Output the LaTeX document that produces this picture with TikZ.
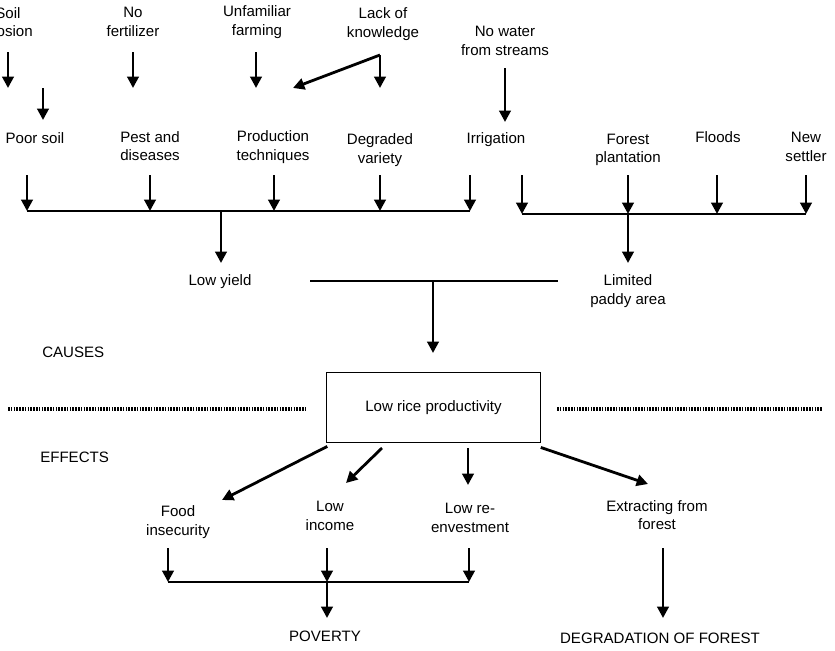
\documentclass[tikz,border=0pt]{standalone}
\usepackage{fontspec}
\setmainfont{Liberation Sans}
\usetikzlibrary{arrows.meta}
\begin{document}
\begin{tikzpicture}[x=0.75pt,y=-0.75pt,
  lbl/.style={align=center,font=\fontsize{11.3}{14}\selectfont,inner sep=0pt},
  arr/.style={line width=2.1pt,-{Triangle[length=8.5pt,width=8.5pt]}},
  barline/.style={line width=1.4pt},
  dotline/.style={line width=2.6pt,dash pattern=on 1.2pt off 0.9pt}]
\useasboundingbox (0,0) rectangle (835,650);
% top row
\node[lbl] (se) at (8,22) {Soil\\erosion};
\node[lbl] (nf) at (133,22) {No\\fertilizer};
\node[lbl] (uf) at (257,22) {Unfamiliar\\farming};
\node[lbl] (lk) at (383,24) {Lack of\\knowledge};
\node[lbl] (nw) at (505,41) {No water\\from streams};
% middle row
\node[lbl] (ps) at (35,138) {Poor soil};
\node[lbl] (pd) at (150,146) {Pest and\\diseases};
\node[lbl] (pt) at (273,147) {Production\\techniques};
\node[lbl] (dv) at (380,150) {Degraded\\variety};
\node[lbl] (ir) at (496,140) {Irrigation};
\node[lbl] (fp) at (628,150) {Forest\\plantation};
\node[lbl] (fl) at (718,137) {Floods};
\node[lbl] (ns) at (806,147) {New\\settler};
\node[lbl] (ly) at (220,282) {Low yield};
\node[lbl] (lp) at (628,291) {Limited\\paddy area};
\node[lbl,anchor=west] (ca) at (42,352) {CAUSES};
\node[draw,line width=0.9pt,inner sep=0pt,minimum width=160pt,minimum height=53pt,
      font=\fontsize{11.3}{14}\selectfont] (box) at (433.5,407.5) {Low rice productivity};
\node[lbl,anchor=west] (ef) at (40,457) {EFFECTS};
\node[lbl] (fi) at (178,522) {Food\\insecurity};
\node[lbl] (li) at (330,516) {Low\\income};
\node[lbl] (lr) at (470,518) {Low re-\\envestment};
\node[lbl] (ex) at (657,515) {Extracting from\\forest};
\node[lbl] (pv) at (325,636) {POVERTY};
\node[lbl] (df) at (660,638) {DEGRADATION OF FOREST};

% coordinates
\coordinate (lkj) at (380,55);
\coordinate (ptt) at (293,88);
\coordinate (b1l) at (27,211);
\coordinate (b1r) at (470,211);
\coordinate (b1m) at (221,211);
\coordinate (b2l) at (522,214);
\coordinate (b2r) at (806,214);
\coordinate (b2m) at (628,214);
\coordinate (hl) at (310,281);
\coordinate (hr) at (558,281);
\coordinate (hm) at (433,281);
\coordinate (b3l) at (168,582);
\coordinate (b3r) at (469,582);
\coordinate (b3m) at (327,582);

% top arrows
\draw[arr] (se |- 0,52) -- (se |- 0,88);
\draw[arr] (43,88) -- (43,120);
\draw[arr] (nf |- 0,52) -- (nf |- 0,88);
\draw[arr] (256,52) -- (256,88);
\draw[arr] (lkj) -- (380,88);
\draw[arr] (lkj) -- (ptt);
\draw[arr] (nw |- 0,68) -- (nw |- 0,122);

% bar 1
\draw[barline] (b1l) -- (b1r);
\foreach \x in {27,150,274,380,470} \draw[arr] (\x,175) -- (\x,211);
\draw[arr] (b1m) -- (221,263);
% bar 2
\draw[barline] (b2l) -- (b2r);
\foreach \x in {522,628,717,806} \draw[arr] (\x,175) -- (\x,214);
\draw[arr] (b2m) -- (628,263);
% to box
\draw[barline] (hl) -- (hr);
\draw[arr] (hm) -- (433,353);
% dotted lines
\draw[dotline] (8,409) -- (307,409);
\draw[dotline] (557,409) -- (822,409);
% effects
\draw[arr] (box.south west) ++(1,3) -- (222,500);
\draw[arr] (382,448) -- (346,483);
\draw[arr] (468,448) -- (468,485);
\draw[arr] (box.south east) ++(0,4) -- (648,484);
% bar 3
\draw[barline] (b3l) -- (b3r);
\draw[arr] (168,548) -- (b3l);
\draw[arr] (327,548) -- (b3m);
\draw[arr] (469,548) -- (b3r);
\draw[arr] (b3m) -- (327,618);
\draw[arr] (663,548) -- (663,618);
\end{tikzpicture}
\end{document}
